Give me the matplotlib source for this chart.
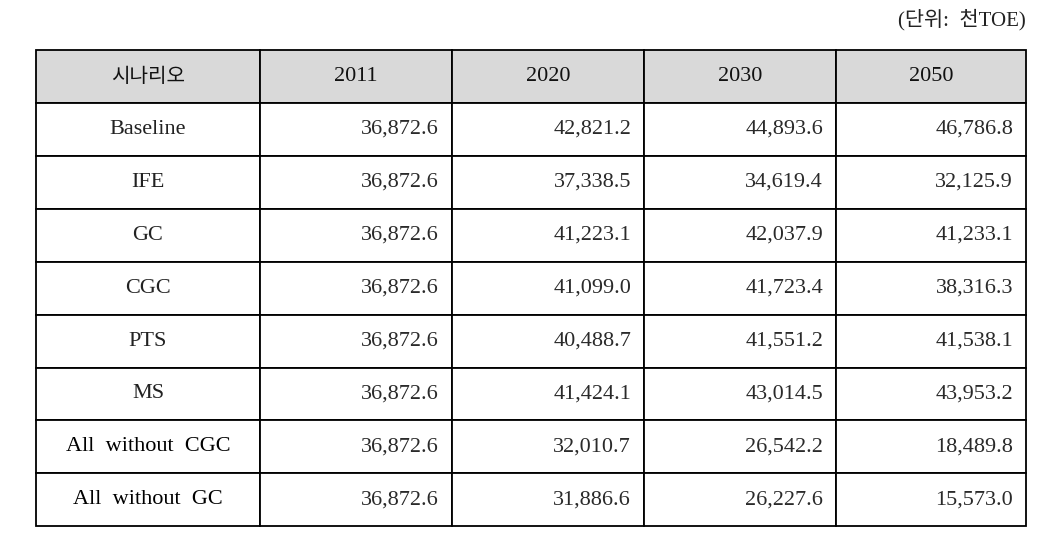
import matplotlib
matplotlib.use('Agg')
from matplotlib import pyplot as plt
from matplotlib.patches import Rectangle

# table contents
header = ['시나리오', '2011', '2020', '2030', '2050']
scenarios = ['Baseline', 'IFE', 'GC', 'CGC', 'PTS', 'MS',
             'All  without  CGC', 'All  without  GC']
v2011 = [36872.6, 36872.6, 36872.6, 36872.6, 36872.6, 36872.6, 36872.6, 36872.6]
v2020 = [42821.2, 37338.5, 41223.1, 41099.0, 40488.7, 41424.1, 32010.7, 31886.6]
v2030 = [44893.6, 34619.4, 42037.9, 41723.4, 41551.2, 43014.5, 26542.2, 26227.6]
v2050 = [46786.8, 32125.9, 41233.1, 38316.3, 41538.1, 43953.2, 18489.8, 15573.0]
unit_label = '(단위:  천TOE)'

# layout in pixels
col_edges = [36, 260, 452, 644, 836, 1026]
top = 50
header_h = 53
row_h = 52.9

fonts = ['Liberation Serif', 'Noto Sans CJK KR']
plt.rcParams['font.family'] = fonts

fig = plt.figure(figsize=(10.5, 5.49), dpi=100)
ax = fig.add_axes([0, 0, 1, 1])
ax.set_xlim(0, 1050)
ax.set_ylim(549, 0)
ax.axis('off')

lw = 1.3
columns = [v2011, v2020, v2030, v2050]

# header row
for j in range(len(header)):
    x0, x1 = col_edges[j], col_edges[j + 1]
    ax.add_patch(Rectangle((x0, top), x1 - x0, header_h, facecolor='#d9d9d9',
                           edgecolor='black', linewidth=lw))
    if j == 0:
        ax.text((x0 + x1) / 2, top + header_h / 2, header[j], ha='center',
                va='center', fontsize=14.5, color='#111',
                family=['Noto Sans CJK KR'])
    else:
        ax.text((x0 + x1) / 2, top + header_h / 2, header[j], ha='center',
                va='center', fontsize=16, color='#111')

# body rows
for i, name in enumerate(scenarios):
    y0 = top + header_h + i * row_h
    for j in range(len(header)):
        x0, x1 = col_edges[j], col_edges[j + 1]
        ax.add_patch(Rectangle((x0, y0), x1 - x0, row_h, facecolor='white',
                               edgecolor='black', linewidth=lw))
    bold = name.startswith('All')
    ax.text((col_edges[0] + col_edges[1]) / 2, y0 + row_h / 2, name,
            ha='center', va='center', fontsize=16,
            color='black' if bold else '#222')
    for j, vals in enumerate(columns):
        ax.text(col_edges[j + 2] - 13, y0 + row_h / 2, f'{vals[i]:,.1f}',
                ha='right', va='center', fontsize=16, color='#2a2a2a')

ax.text(col_edges[-1], 20, unit_label, ha='right', va='center',
        fontsize=15, color='#222')

fig.savefig('out.png', dpi=100)
